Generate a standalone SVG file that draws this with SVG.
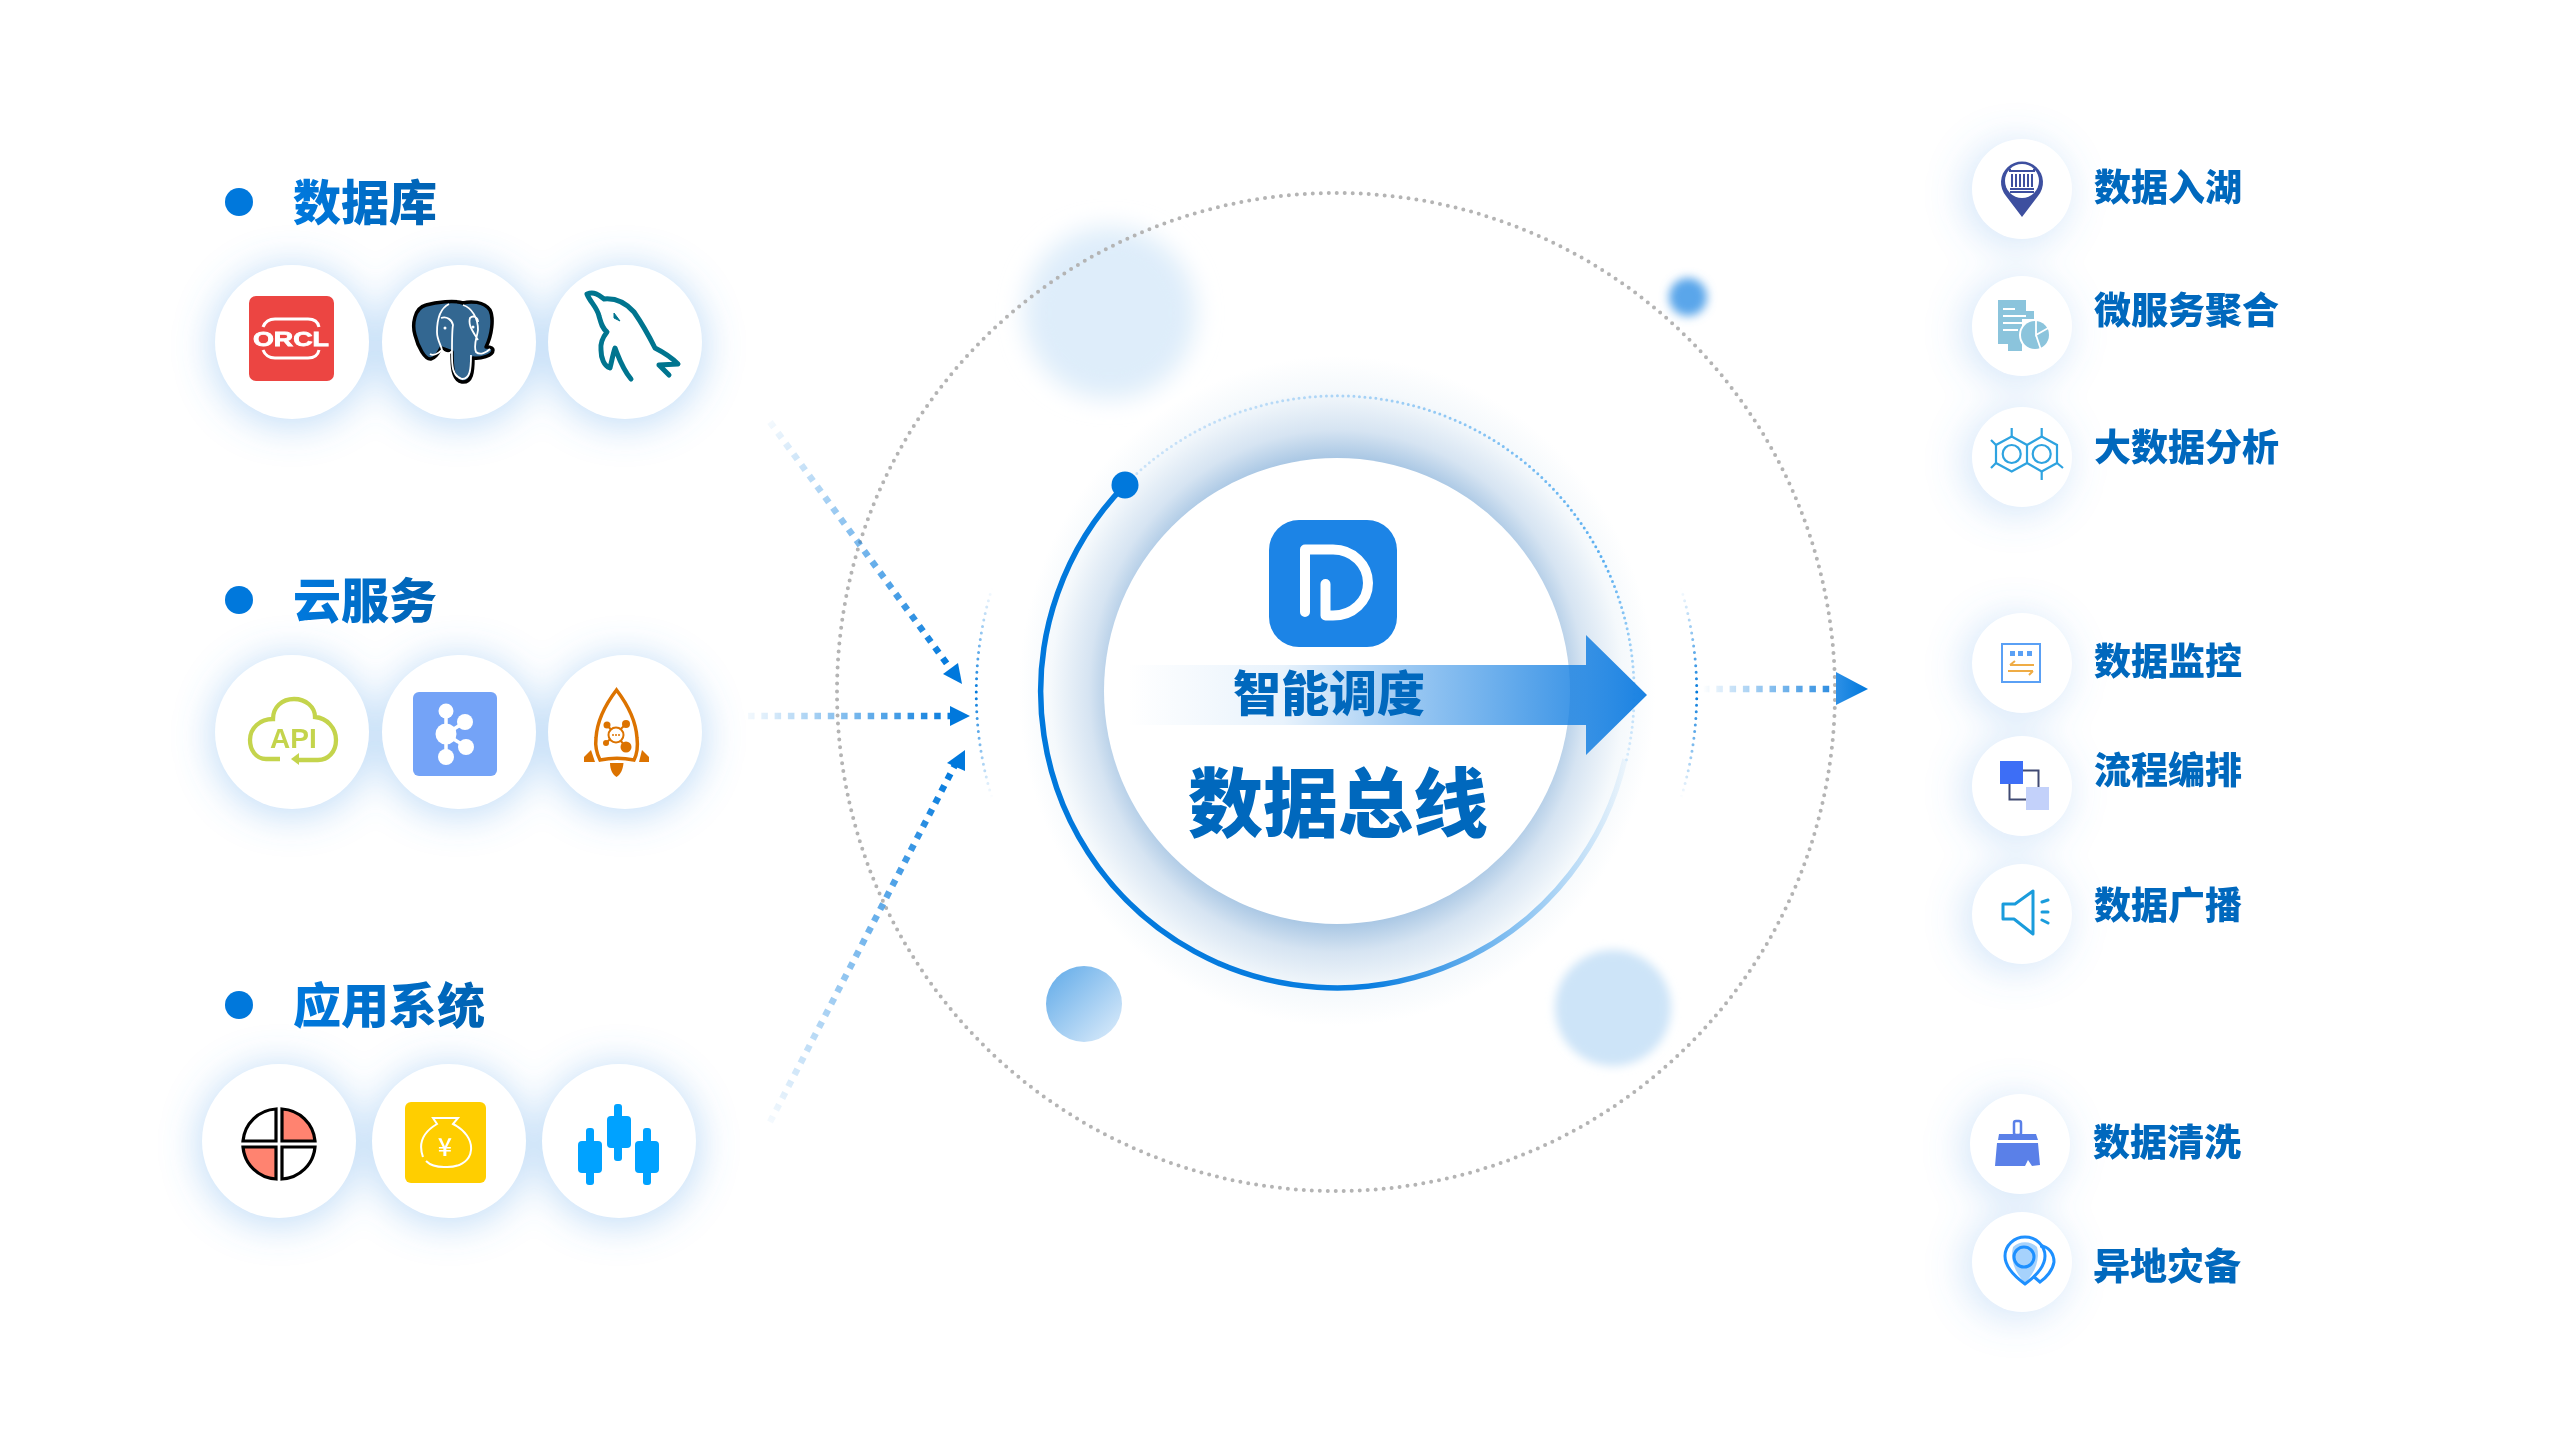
<svg xmlns="http://www.w3.org/2000/svg" width="2560" height="1440" viewBox="0 0 2560 1440">
<style>
text{font-family:"Noto Sans CJK SC","Noto Sans",sans-serif;font-weight:900}
.h{font-size:48px;fill:url(#tg)}
.t{font-size:37px;fill:#0068bd}
.c{fill:#fff}
.s{fill:#5aa5ea;opacity:.34}
.sr{fill:#5aa5ea;opacity:.24}
.dash{fill:none;stroke-width:6.5;stroke-dasharray:6.5 6.8}
</style>
<defs>
<linearGradient id="tg" x1="0" x2="1" y1="0" y2="0"><stop offset="0" stop-color="#0079de"/><stop offset="1" stop-color="#0062b2"/></linearGradient>
<filter id="blur" x="-50%" y="-50%" width="200%" height="200%"><feGaussianBlur stdDeviation="18"/></filter>
<filter id="soft" x="-30%" y="-30%" width="160%" height="160%"><feGaussianBlur stdDeviation="12"/></filter>
<filter id="soft2" x="-50%" y="-50%" width="200%" height="200%"><feGaussianBlur stdDeviation="5"/></filter>
<radialGradient id="halo" gradientUnits="userSpaceOnUse" cx="0" cy="0" r="335" gradientTransform="translate(1337 691) scale(.95 1)">
<stop offset=".69" stop-color="#a6c5e3"/><stop offset=".78" stop-color="#d6e4f2"/><stop offset=".9" stop-color="#f5f9fc"/><stop offset="1" stop-color="#fff"/></radialGradient>
<linearGradient id="ring" gradientUnits="userSpaceOnUse" x1="1040" y1="0" x2="1640" y2="0"><stop offset="0" stop-color="#0078dc"/><stop offset=".55" stop-color="#0a7ee0"/><stop offset=".8" stop-color="#8cc4f2"/><stop offset="1" stop-color="#8cc4f2" stop-opacity="0"/></linearGradient>
<linearGradient id="ringd" gradientUnits="userSpaceOnUse" x1="1125" y1="420" x2="1630" y2="790"><stop offset="0" stop-color="#d4e7f9"/><stop offset=".75" stop-color="#58aef0"/><stop offset="1" stop-color="#eaf4fd"/></linearGradient>
<linearGradient id="arcs" gradientUnits="userSpaceOnUse" x1="0" y1="588" x2="0" y2="798"><stop offset="0" stop-color="#0078dc" stop-opacity="0"/><stop offset=".5" stop-color="#0078dc"/><stop offset="1" stop-color="#0078dc" stop-opacity="0"/></linearGradient>
<linearGradient id="big" gradientUnits="userSpaceOnUse" x1="1127" y1="0" x2="1647" y2="0"><stop offset="0" stop-color="#1a82e2" stop-opacity="0"/><stop offset=".3" stop-color="#1a82e2" stop-opacity=".1"/><stop offset=".55" stop-color="#1a82e2" stop-opacity=".45"/><stop offset="1" stop-color="#1a82e2"/></linearGradient>
<linearGradient id="d1" gradientUnits="userSpaceOnUse" x1="762" y1="411" x2="950" y2="668"><stop offset="0" stop-color="#0078dc" stop-opacity="0"/><stop offset="1" stop-color="#0078dc"/></linearGradient>
<linearGradient id="d2" gradientUnits="userSpaceOnUse" x1="738" y1="716" x2="955" y2="716"><stop offset="0" stop-color="#0078dc" stop-opacity="0"/><stop offset="1" stop-color="#0078dc"/></linearGradient>
<linearGradient id="d3" gradientUnits="userSpaceOnUse" x1="762" y1="1137" x2="955" y2="765"><stop offset="0" stop-color="#0078dc" stop-opacity="0"/><stop offset="1" stop-color="#0078dc"/></linearGradient>
<linearGradient id="d4" gradientUnits="userSpaceOnUse" x1="1703" y1="689" x2="1836" y2="689"><stop offset="0" stop-color="#0078dc" stop-opacity="0"/><stop offset="1" stop-color="#2a8be0"/></linearGradient>
<linearGradient id="h4" gradientUnits="userSpaceOnUse" x1="1836" y1="689" x2="1868" y2="689"><stop offset="0" stop-color="#2d90e6"/><stop offset="1" stop-color="#0078dc"/></linearGradient>
<linearGradient id="ball" x1="0" y1="0" x2="1" y2="1"><stop offset="0" stop-color="#5ea9e8"/><stop offset="1" stop-color="#e0eefb"/></linearGradient>
</defs>
<rect width="2560" height="1440" fill="#fff"/>

<g id="shadows" filter="url(#blur)">
<circle class="s" cx="292" cy="346" r="82"/><circle class="s" cx="459" cy="346" r="82"/><circle class="s" cx="625" cy="346" r="82"/>
<circle class="s" cx="292" cy="736" r="82"/><circle class="s" cx="459" cy="736" r="82"/><circle class="s" cx="625" cy="736" r="82"/>
<circle class="s" cx="279" cy="1145" r="82"/><circle class="s" cx="449" cy="1145" r="82"/><circle class="s" cx="619" cy="1145" r="82"/>
<circle class="sr" cx="2016" cy="194" r="54"/><circle class="sr" cx="2016" cy="331" r="54"/><circle class="sr" cx="2016" cy="462" r="54"/>
<circle class="sr" cx="2016" cy="668" r="54"/><circle class="sr" cx="2016" cy="791" r="54"/><circle class="sr" cx="2016" cy="919" r="54"/>
<circle class="sr" cx="2014" cy="1149" r="54"/><circle class="sr" cx="2016" cy="1267" r="54"/>
</g>

<g id="decor">
<circle cx="1110" cy="313" r="86" fill="#deedfa" filter="url(#soft)"/>
<circle cx="1688" cy="297" r="19" fill="#5aa6ea" filter="url(#soft2)"/>
<circle cx="1084" cy="1004" r="38" fill="url(#ball)"/>
<circle cx="1613" cy="1008" r="58" fill="#cde4f8" filter="url(#soft2)"/>
<circle cx="1336" cy="692" r="499" fill="none" stroke="#b4b4b4" stroke-width="4" stroke-linecap="round" stroke-dasharray="0 8"/>
</g>

<g id="hub">
<circle cx="1337" cy="691" r="335" fill="url(#halo)"/>
<circle cx="1337" cy="691" r="233" fill="#fff"/>
<path d="M992,588A358,358 0 0 0 992,798" fill="none" stroke="url(#arcs)" stroke-width="3" stroke-linecap="round" stroke-dasharray="0 6.6"/>
<path d="M1681,588A358,358 0 0 1 1681,798" fill="none" stroke="url(#arcs)" stroke-width="3" stroke-linecap="round" stroke-dasharray="0 6.6"/>
<path d="M1125,485A297,297 0 0 1 1626,762" fill="none" stroke="url(#ringd)" stroke-width="3" stroke-linecap="round" stroke-dasharray="0 5.5"/>
<path d="M1125,485A296,296 0 1 0 1625,759" fill="none" stroke="url(#ring)" stroke-width="5.5"/>
<ellipse cx="1125" cy="485" rx="13.5" ry="13.5" fill="#0078dc"/>
<rect x="1269" y="520" width="128" height="127" rx="30" fill="#1c84e6"/>
<path d="M1305,612V549.500H1333C1353,549.500 1368,565 1368,583C1368,601 1353,615.500 1333,615.500H1325.500V584" fill="none" stroke="#fff" stroke-width="10" stroke-linecap="round" stroke-linejoin="round"/>
<path d="M1127,665H1586V635L1647,695L1586,755V725H1127Z" fill="url(#big)"/>
<text x="1329" y="711" fill="#0068bd" text-anchor="middle" style="font-size:48px">智能调度</text>
<text x="1338" y="831" fill="#0068bd" text-anchor="middle" style="font-size:75px">数据总线</text>
</g>

<g id="connectors">
<path class="dash" stroke="url(#d1)" d="M770,422L950,668"/>
<polygon points="962,684 958,663 943,674" fill="#0078dc"/>
<path class="dash" stroke="url(#d2)" d="M748,716H952"/>
<polygon points="970,716 950,706 950,726" fill="#0078dc"/>
<path class="dash" stroke="url(#d3)" d="M770,1122L955,765"/>
<polygon points="965,750 947,763 965,771" fill="#0078dc"/>
<path class="dash" stroke="url(#d4)" d="M1703,689H1836"/>
<polygon points="1836,672 1868,689 1836,705" fill="url(#h4)"/>
</g>

<g id="label-db"><circle cx="239" cy="202" r="14" fill="#0078dc"/><text class="h" x="293" y="220">数据库</text></g>
<g id="label-cloud"><circle cx="239" cy="600" r="14" fill="#0078dc"/><text class="h" x="293" y="618">云服务</text></g>
<g id="label-app"><circle cx="239" cy="1005" r="14" fill="#0078dc"/><text class="h" x="293" y="1023">应用系统</text></g>

<g id="oracle"><circle class="c" cx="292" cy="342" r="77"/>
<rect x="249" y="296" width="85" height="85" rx="7" fill="#ec4542"/>
<path d="M263,327C265,322 269,319 275,319H308C314,319 318,322 319,327M263,350C265,355 269,358 275,358H308C314,358 318,355 319,350" fill="none" stroke="#fff" stroke-width="3"/>
<text x="253" y="346" textLength="76" lengthAdjust="spacingAndGlyphs" fill="#fff" stroke="#fff" stroke-width=".8" style="font-family:'Liberation Sans',sans-serif;font-weight:700;font-size:20px">ORCL</text></g>

<g id="postgres"><circle class="c" cx="459" cy="342" r="77"/>
<path d="M426,305C414,308 412,325 415,335C418,347 425,360 431,359C436,358 439,352 441,348L452,352C452,365 452,380 462,382C472,383 473,372 473,358C480,359 493,356 493,350C493,347 488,347 486,347C492,335 494,318 490,310C484,301 470,301 463,303C455,300 436,302 426,305Z" fill="#336791" stroke="#000" stroke-width="3.500" stroke-linejoin="round"/>
<path d="M463,305C472,308 478,318 478,330C477,338 473,345 476,352C480,356 487,352 490,349M449,304C441,308 437,318 437,332C437,340 441,345 442,350C438,354 433,356 430,354M442,350C445,355 450,354 452,351C452,340 452,330 453,325C452,320 447,316 441,318M478,340C472,330 468,325 470,318C473,315 478,317 478,322M452,351C452,362 451,376 462,379C470,379 471,370 471,355" fill="none" stroke="#fff" stroke-width="1.800"/>
<circle cx="445" cy="328" r="1.500" fill="#fff"/><circle cx="473" cy="327" r="1.500" fill="#fff"/></g>

<g id="mysql"><circle class="c" cx="625" cy="342" r="77"/>
<path d="M587,294C595,291 600,296 604,299C615,298 625,302 634,312C643,325 650,338 655,348C663,352 672,358 678,364L659,365L669,375M587,294C590,302 597,307 599,316C601,323 602,328 607,332C603,337 600,342 601,350C601,358 604,366 610,368C612,360 613,354 615,348C619,358 622,368 631,379" fill="none" stroke="#00758f" stroke-width="5" stroke-linecap="round" stroke-linejoin="round"/>
<path d="M614,313L620,321L614,318Z" fill="#00758f" stroke="#00758f"/></g>

<g id="api"><circle class="c" cx="292" cy="732" r="77"/>
<path d="M280,759H266C256,759 250,750 250,740C250,728 260,719 273,719C273,707 282,699 294,699C306,699 315,707 315,717C327,718 336,728 336,740C336,752 328,760 318,760H296" fill="none" stroke="#c4d44c" stroke-width="4.300"/>
<polygon points="291,759 299,753 299,765" fill="#c4d44c"/>
<text x="270" y="748" fill="#c4d44c" style="font-family:'Liberation Sans',sans-serif;font-weight:700;font-size:28px">API</text></g>

<g id="kafka"><circle class="c" cx="459" cy="732" r="77"/>
<rect x="413" y="692" width="84" height="84" rx="6" fill="#74a3f7"/>
<path d="M446,711V757M446,734L465,722M446,734L466,747" stroke="#fff" stroke-width="3.500" fill="none"/>
<g fill="#fff"><circle cx="446" cy="711" r="7.500"/><circle cx="465" cy="722" r="8"/><circle cx="446" cy="734" r="10.500"/><circle cx="466" cy="747" r="8"/><circle cx="446" cy="757" r="8"/></g></g>

<g id="rocket"><circle class="c" cx="625" cy="732" r="77"/>
<path d="M616.500,690C605,705 597,722 596,738C595,746 597,754 600,760C610,758 624,758 634,760C637,754 638,746 637,738C636,722 628,705 616.500,690Z" fill="none" stroke="#dc7300" stroke-width="3.500"/>
<g fill="#dc7300"><polygon points="591,750 584,757 584,762 595,762"/><polygon points="642,750 649,757 649,762 639,762"/><path d="M610,763H623.500C623,770 620,775 616.500,777C613,775 610,770 610,763Z"/>
<circle cx="607" cy="725" r="3.500"/><circle cx="626" cy="724" r="4"/><circle cx="606" cy="743" r="3"/><circle cx="626" cy="747" r="5.500"/></g>
<path d="M607,725L626,747M626,724L606,743" stroke="#dc7300" stroke-width="2"/>
<circle cx="616" cy="735" r="7.500" fill="#fff" stroke="#dc7300" stroke-width="2"/>
<g fill="#dc7300"><circle cx="613" cy="735" r="1"/><circle cx="616" cy="735" r="1"/><circle cx="619" cy="735" r="1"/></g></g>

<g id="quad"><circle class="c" cx="279" cy="1141" r="77"/>
<g stroke="#000" stroke-width="3.200"><path d="M276,1109A35,35 0 0 0 243,1141H276Z" fill="#fff"/><path d="M282,1109A35,35 0 0 1 315,1141H282Z" fill="#ff8370"/><path d="M243,1147A35,35 0 0 0 276,1179V1147Z" fill="#ff8370"/><path d="M282,1147V1179A35,35 0 0 0 315,1147Z" fill="#fff"/></g></g>

<g id="money"><circle class="c" cx="449" cy="1141" r="77"/>
<rect x="405" y="1102" width="81" height="81" rx="6" fill="#ffce00"/>
<path d="M423,1157C419,1146 420,1134 437,1124L433,1118H458L453,1124C465,1130 472,1140 471,1150C470,1162 458,1168 444,1167C436,1167 430,1165 426,1161" fill="none" stroke="#fff" stroke-width="2"/>
<text x="445" y="1156" fill="#fff" text-anchor="middle" style="font-weight:500;font-size:25px">¥</text></g>

<g id="candles"><circle class="c" cx="619" cy="1141" r="77"/>
<g fill="#00a2ff"><rect x="586" y="1128" width="8" height="57" rx="3"/><rect x="578" y="1141" width="24" height="32" rx="4"/><rect x="614" y="1104" width="8" height="57" rx="3"/><rect x="607" y="1116" width="24" height="32" rx="4"/><rect x="643" y="1128" width="8" height="57" rx="3"/><rect x="635" y="1141" width="24" height="32" rx="4"/></g></g>

<g id="n-lake"><circle class="c" cx="2022" cy="189" r="50"/>
<path d="M2022,217L2006,196A21,21 0 1 1 2038,196Z" fill="#3d4f9f"/>
<circle cx="2022" cy="181" r="17" fill="#fff"/>
<path d="M2010,171H2034M2010,169V172M2034,169V172M2012,174V187M2016,174V187M2020,174V187M2024,174V187M2028,174V187M2032,174V187M2010,189H2034M2010,192H2034" stroke="#3d4f9f" stroke-width="2" fill="none"/>
<text class="t" x="2094" y="201">数据入湖</text></g>

<g id="n-micro"><circle class="c" cx="2022" cy="326" r="50"/>
<path d="M1998,300H2026V311H2034V319H2022V351H2008V344H1998Z" fill="#8bc4dc"/>
<path d="M2003,309H2015M2003,316H2026M2003,323H2024M2003,330H2018" stroke="#fff" stroke-width="1.800"/>
<circle cx="2035" cy="335" r="16" fill="#fff"/>
<circle cx="2035" cy="335" r="14" fill="#8bc4dc"/>
<path d="M2036,320V335L2050,327M2036,335L2041,350" stroke="#fff" stroke-width="1.800" fill="none"/>
<text class="t" x="2094" y="324">微服务聚合</text></g>

<g id="n-analytics"><circle class="c" cx="2022" cy="457" r="50"/>
<g fill="none" stroke="#2ea3e0" stroke-width="2.200"><path d="M2011.700,436.500L2027,445V463L2011.700,471.500L1996,463V445ZM2027,445L2041.700,436.500L2057,445V463L2041.700,471.500L2027,463"/><circle cx="2011.700" cy="454" r="9"/><circle cx="2041.700" cy="454" r="9"/>
<path d="M2011.700,428V436.500M2041.700,428V436.500M2041.700,471.500V480M1991,440L1996,445M1991,468L1996,463M2063,468L2057,463"/></g>
<text class="t" x="2094" y="461">大数据分析</text></g>

<g id="n-monitor"><circle class="c" cx="2022" cy="663" r="50"/>
<rect x="2002" y="644" width="38" height="38" fill="#fff" stroke="#5aa0f5" stroke-width="2"/>
<g fill="#5aa0f5"><rect x="2010" y="651" width="5" height="5"/><rect x="2018" y="651" width="5" height="5"/><rect x="2027" y="651" width="5" height="5"/></g>
<path d="M2010,665H2034M2015,661L2010,665M2008,671H2033M2029,675L2033,671" stroke="#efac45" stroke-width="2" fill="none"/>
<text class="t" x="2094" y="675">数据监控</text></g>

<g id="n-flow"><circle class="c" cx="2022" cy="786" r="50"/>
<rect x="2009.500" y="770.500" width="29" height="29" fill="none" stroke="#404a73" stroke-width="2"/>
<rect x="2000" y="761" width="23" height="23" fill="#3d6ef6"/><rect x="2026" y="787" width="23" height="23" fill="#c3d1fa"/>
<text class="t" x="2094" y="784">流程编排</text></g>

<g id="n-broadcast"><circle class="c" cx="2022" cy="914" r="50"/>
<path d="M2003,904H2015L2033,891V934L2014,919H2003Z" fill="none" stroke="#1a9cdc" stroke-width="3" stroke-linejoin="round"/>
<path d="M2042,902L2048,900M2042,912H2048M2042,920L2048,923" stroke="#1a9cdc" stroke-width="3" stroke-linecap="round"/>
<text class="t" x="2094" y="919">数据广播</text></g>

<g id="n-clean"><circle class="c" cx="2020" cy="1144" r="50"/>
<rect x="2014" y="1121" width="7" height="14" rx="2" fill="none" stroke="#5a80e8" stroke-width="2.500"/>
<path d="M1999,1134H2036L2038,1140H1998ZM1997,1143H2038L2040,1165L2032,1166L2028,1160L2025,1166H1995Z" fill="#5a80e8"/>
<text class="t" x="2093" y="1156">数据清洗</text></g>

<g id="n-backup"><circle class="c" cx="2022" cy="1262" r="50"/>
<path d="M2040,1246C2049,1246 2054,1254 2054,1262C2053,1270 2046,1278 2040,1282L2033,1276" fill="none" stroke="#1e90ff" stroke-width="3"/>
<path d="M2013,1247A16,14 0 0 1 2037,1247C2040,1258 2036,1272 2025,1283C2014,1272 2010,1258 2013,1247Z" fill="#a6d2fc"/>
<path d="M2025,1284C2014,1276 2005,1267 2005,1256A20,19 0 0 1 2045,1256C2045,1267 2036,1276 2025,1284Z" fill="none" stroke="#1e90ff" stroke-width="3"/>
<circle cx="2024" cy="1257" r="10" fill="#a6d2fc" stroke="#1e90ff" stroke-width="3"/>
<text class="t" x="2093" y="1280">异地灾备</text></g>
</svg>
